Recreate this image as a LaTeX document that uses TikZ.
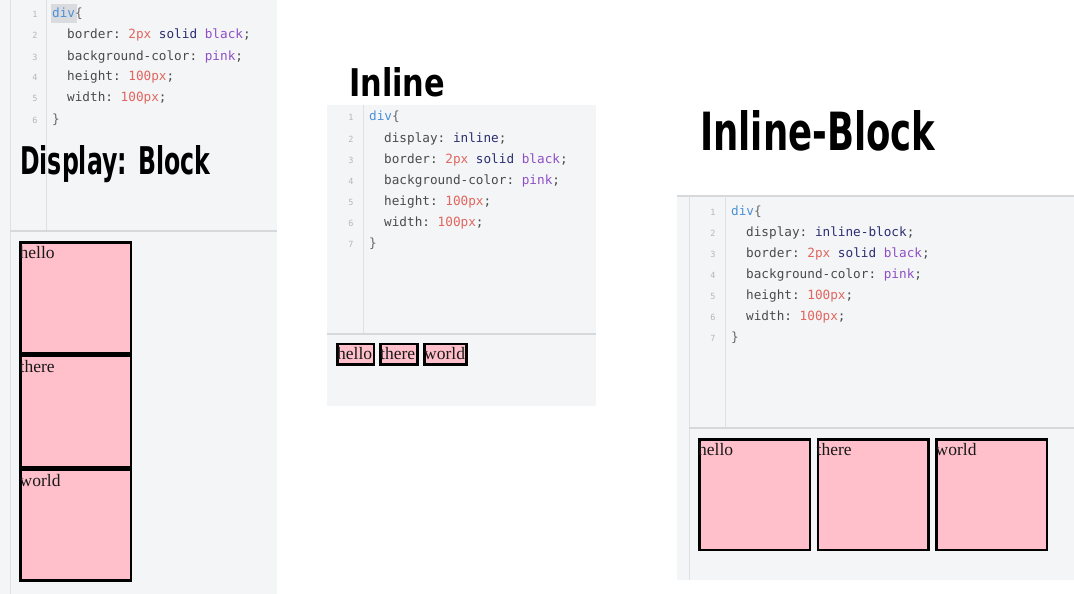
\documentclass[tikz,border=0pt]{standalone}
\usepackage{fontspec}
\usepackage{graphicx}
\setmainfont{Liberation Serif}
\setmonofont{DejaVu Sans Mono}
\newfontfamily\handfont{DejaVu Sans}
\definecolor{bgpanel}{HTML}{F4F5F7}
\definecolor{gutterc}{HTML}{DEE0E3}
\definecolor{dividerc}{HTML}{D6D9DC}
\definecolor{boxpink}{HTML}{FFC0CB}
\definecolor{cblue}{HTML}{4A8FD8}
\definecolor{cpunc}{HTML}{666666}
\definecolor{cprop}{HTML}{4A4A4A}
\definecolor{cred}{HTML}{E0665E}
\definecolor{cnavy}{HTML}{2B2D70}
\definecolor{cpurple}{HTML}{8E4EC6}
\definecolor{lnumc}{HTML}{B3B7BC}
\definecolor{hlc}{HTML}{D9DBDE}
\begin{document}
\begin{tikzpicture}[x=1pt,y=-1pt,
  code/.style={anchor=base west, inner sep=0pt, text=cprop, font=\ttfamily\fontsize{12.7}{14}\selectfont},
  lnum/.style={anchor=base, inner sep=0pt, text=lnumc, font=\ttfamily\fontsize{8.5}{9}\selectfont},
  gline/.style={draw=gutterc, line width=1pt},
  dline/.style={draw=dividerc, line width=1.2pt},
  cbox/.style={draw=black, fill=boxpink, line width=2.5pt, inner sep=0pt, anchor=north west, minimum width=110.5pt, minimum height=111pt},
  ibox/.style={draw=black, fill=boxpink, line width=2.5pt, inner sep=0pt, anchor=north west, minimum height=20.5pt},
  btext/.style={anchor=base west, inner sep=0pt, text=black!90, font=\fontsize{17.5}{20}\selectfont},
  hand/.style={anchor=base west, inner sep=0pt, text=black}
]
\useasboundingbox (0,0) rectangle (1074,594);
\fill[white] (0,0) rectangle (1074,594);

% ---------- Panel 1 : block ----------
\fill[bgpanel] (0,0) rectangle (277,594);
\draw[gline] (10,0) -- (10,594);
\draw[gline] (46,0) -- (46,231);
\draw[dline] (10,231) -- (277,231);
\fill[hlc] (51,4) rectangle (77,23);
\node[lnum] (a1) at (35,18) {1};
\node[lnum] (a2) at (35,39) {2};
\node[lnum] (a3) at (35,60) {3};
\node[lnum] (a4) at (35,81) {4};
\node[lnum] (a5) at (35,102) {5};
\node[lnum] (a6) at (35,123) {6};
\node[code] (ac1) at (52,18) {\textcolor{cblue}{div}\textcolor{cpunc}{\{}};
\node[code] (ac2) at (67,39) {border: \textcolor{cred}{2px} \textcolor{cnavy}{solid} \textcolor{cpurple}{black};};
\node[code] (ac3) at (67,60) {background-color: \textcolor{cpurple}{pink};};
\node[code] (ac4) at (67,81) {height: \textcolor{cred}{100px};};
\node[code] (ac5) at (67,102) {width: \textcolor{cred}{100px};};
\node[code] (ac6) at (52,123) {\textcolor{cpunc}{\}}};
\node[hand] (ha) at (20,174) {\resizebox{190pt}{29pt}{\handfont\bfseries Display: Block}};

\node[cbox] (b1) at (19.25,241.25) {};
\node[cbox] (b2) at (19.25,354.75) {};
\node[cbox] (b3) at (19.25,468.25) {};
\node[btext] (t1) at (19.5,258) {hello};
\node[btext] (t2) at (19.5,372) {there};
\node[btext] (t3) at (19.5,486) {world};

% ---------- Panel 2 : inline ----------
\node[hand] (hb) at (349,96) {\resizebox{96pt}{29pt}{\handfont\bfseries Inline}};
\fill[bgpanel] (327,105) rectangle (596,406);
\draw[gline] (363,105) -- (363,334);
\draw[dline] (327,334) -- (596,334);
\node[lnum] (b1n) at (351,121) {1};
\node[lnum] (b2n) at (351,142) {2};
\node[lnum] (b3n) at (351,163) {3};
\node[lnum] (b4n) at (351,184) {4};
\node[lnum] (b5n) at (351,205) {5};
\node[lnum] (b6n) at (351,226) {6};
\node[lnum] (b7n) at (351,247) {7};
\node[code] (bc1) at (369,121) {\textcolor{cblue}{div}\textcolor{cpunc}{\{}};
\node[code] (bc2) at (384,142) {display: \textcolor{cnavy}{inline};};
\node[code] (bc3) at (384,163) {border: \textcolor{cred}{2px} \textcolor{cnavy}{solid} \textcolor{cpurple}{black};};
\node[code] (bc4) at (384,184) {background-color: \textcolor{cpurple}{pink};};
\node[code] (bc5) at (384,205) {height: \textcolor{cred}{100px};};
\node[code] (bc6) at (384,226) {width: \textcolor{cred}{100px};};
\node[code] (bc7) at (369,247) {\textcolor{cpunc}{\}}};

\node[ibox, minimum width=36.5pt] (i1) at (336.25,342.75) {};
\node[ibox, minimum width=37pt] (i2) at (379.25,342.75) {};
\node[ibox, minimum width=42pt] (i3) at (423.25,342.75) {};
\node[btext] (it1) at (337,359) {hello};
\node[btext] (it2) at (380,359) {there};
\node[btext] (it3) at (424,359) {world};

% ---------- Panel 3 : inline-block ----------
\node[hand] (hc) at (700,150) {\resizebox{235pt}{40pt}{\handfont\bfseries Inline-Block}};
\fill[bgpanel] (677,196) rectangle (1074,580);
\draw[dline] (677,196) -- (1074,196);
\draw[gline] (689,196) -- (689,580);
\draw[gline] (725,196) -- (725,428);
\draw[dline] (689,428) -- (1074,428);
\node[lnum] (c1n) at (713,215) {1};
\node[lnum] (c2n) at (713,236) {2};
\node[lnum] (c3n) at (713,257) {3};
\node[lnum] (c4n) at (713,278) {4};
\node[lnum] (c5n) at (713,299) {5};
\node[lnum] (c6n) at (713,320) {6};
\node[lnum] (c7n) at (713,341) {7};
\node[code] (cc1) at (731,215) {\textcolor{cblue}{div}\textcolor{cpunc}{\{}};
\node[code] (cc2) at (746,236) {display: \textcolor{cnavy}{inline-block};};
\node[code] (cc3) at (746,257) {border: \textcolor{cred}{2px} \textcolor{cnavy}{solid} \textcolor{cpurple}{black};};
\node[code] (cc4) at (746,278) {background-color: \textcolor{cpurple}{pink};};
\node[code] (cc5) at (746,299) {height: \textcolor{cred}{100px};};
\node[code] (cc6) at (746,320) {width: \textcolor{cred}{100px};};
\node[code] (cc7) at (731,341) {\textcolor{cpunc}{\}}};

\node[cbox, minimum height=110.5pt] (k1) at (698.25,438.25) {};
\node[cbox, minimum height=110.5pt] (k2) at (816.75,438.25) {};
\node[cbox, minimum height=110.5pt] (k3) at (935.25,438.25) {};
\node[btext] (kt1) at (698,455) {hello};
\node[btext] (kt2) at (816.5,455) {there};
\node[btext] (kt3) at (935.5,455) {world};
\end{tikzpicture}
\end{document}
